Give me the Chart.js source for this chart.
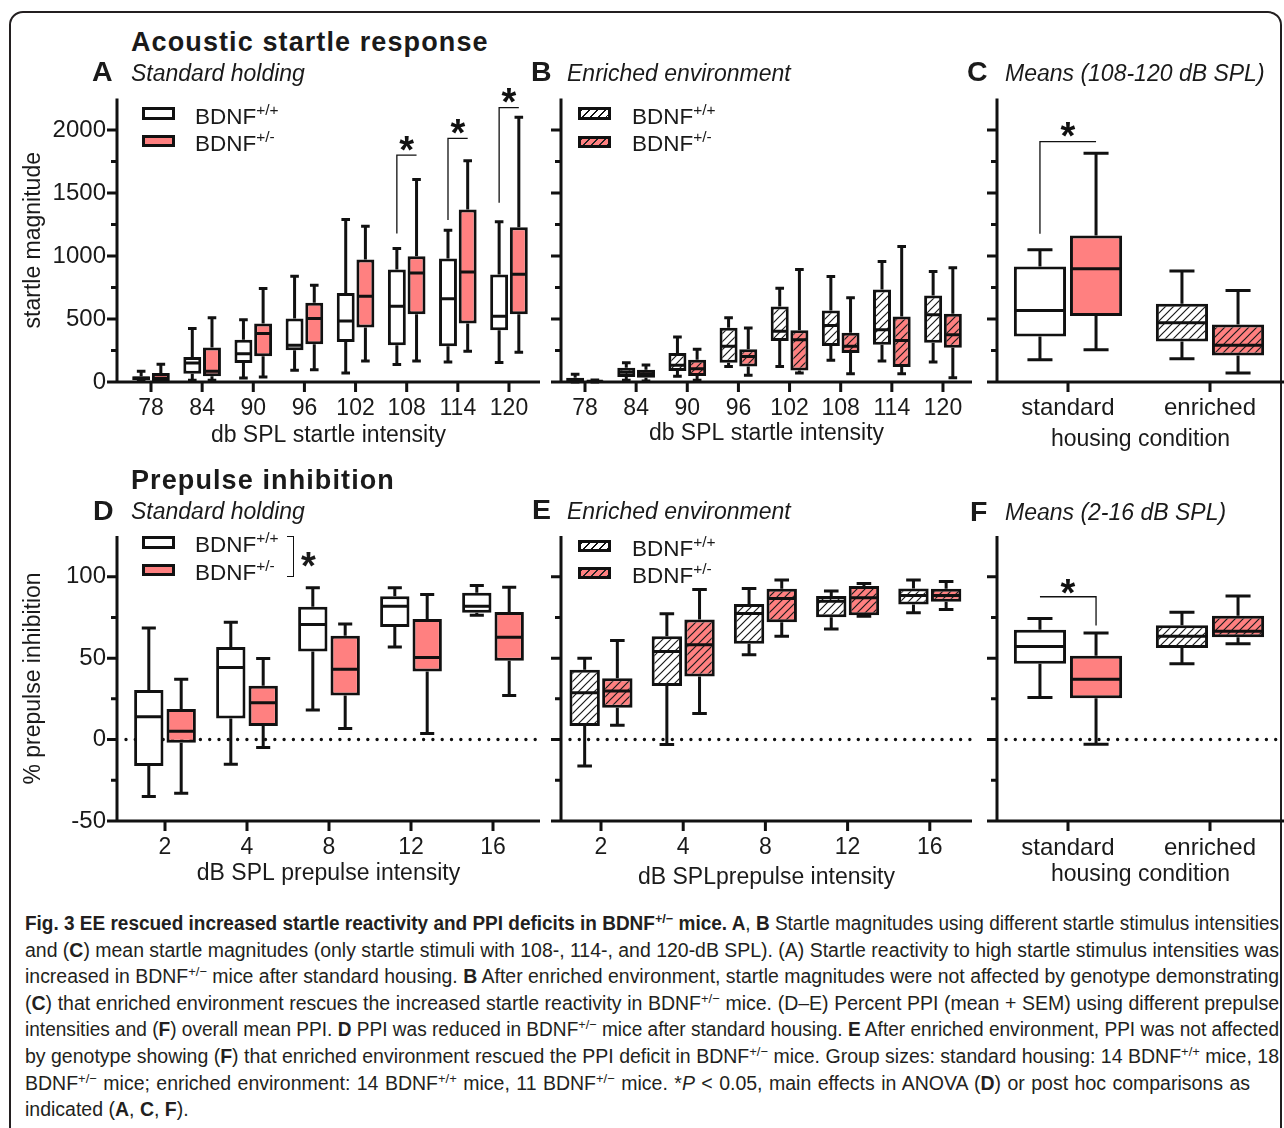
<!DOCTYPE html>
<html><head><meta charset="utf-8">
<script src="https://cdn.jsdelivr.net/npm/chart.js@4.4.1/dist/chart.umd.min.js"></script>
<style>
html,body{margin:0;padding:0;background:#fff}
body{width:1284px;height:1128px;position:relative;overflow:hidden;font-family:"Liberation Sans",Arial,Helvetica,sans-serif;color:#1a1a1a}
#frame{position:absolute;left:9px;top:11px;width:1273px;height:1200px;border:2px solid #231f20;border-radius:14px;box-sizing:border-box}
canvas{position:absolute}
.t{position:absolute;white-space:nowrap;line-height:1}
.title{font-weight:bold;font-size:27px;letter-spacing:1.1px}
.let{font-weight:bold;font-size:28.5px}
.sub{font-style:italic;font-size:23px}
.lg{position:absolute;box-sizing:border-box;border:3px solid #111;background:#fff}
.lg.red{background:#ff8080}
.lg.hw{background:repeating-linear-gradient(135deg,#111 0 1.3px,transparent 1.3px 5.5px),#fff}
.lg.hr{background:repeating-linear-gradient(135deg,#222 0 1.3px,transparent 1.3px 5.5px),#ff8080}
.lt{position:absolute;white-space:nowrap;line-height:1;font-size:22.5px}
.lt sup{font-size:15.5px;vertical-align:0;position:relative;top:-9px}
.cl{position:absolute;left:25px;white-space:nowrap;width:max-content;font-size:19.5px;line-height:26.6px;height:26.6px;transform-origin:0 0;color:#231f20}
.cl sup{font-size:13px;vertical-align:0;position:relative;top:-7px}
</style></head><body>
<div id="frame"></div>
<canvas id="cA"></canvas><canvas id="cB"></canvas><canvas id="cC"></canvas>
<canvas id="cD"></canvas><canvas id="cE"></canvas><canvas id="cF"></canvas>

<div class="t title" style="left:131px;top:28.6px">Acoustic startle response</div>
<div class="t let" style="left:92px;top:57.4px">A</div>
<div class="t sub" style="left:131px;top:61.5px">Standard holding</div>
<div class="t let" style="left:531px;top:57.4px">B</div>
<div class="t sub" style="left:567px;top:61.5px">Enriched environment</div>
<div class="t let" style="left:967px;top:57.4px">C</div>
<div class="t sub" style="left:1005px;top:61.5px">Means (108-120 dB SPL)</div>

<div class="t title" style="left:131px;top:467.1px">Prepulse inhibition</div>
<div class="t let" style="left:93px;top:495.9px">D</div>
<div class="t sub" style="left:131px;top:500px">Standard holding</div>
<div class="t let" style="left:532px;top:495.2px">E</div>
<div class="t sub" style="left:567px;top:499.8px">Enriched environment</div>
<div class="t let" style="left:970px;top:496.6px">F</div>
<div class="t sub" style="left:1005px;top:500.5px">Means (2-16 dB SPL)</div>

<!-- legends -->
<div class="lg" style="left:142px;top:107px;width:33px;height:12.5px"></div>
<div class="lg red" style="left:142px;top:135px;width:33px;height:12px"></div>
<div class="lt" style="left:195px;top:106px">BDNF<sup>+/+</sup></div>
<div class="lt" style="left:195px;top:133px">BDNF<sup>+/-</sup></div>

<div class="lg hw" style="left:578px;top:107px;width:33px;height:13px"></div>
<div class="lg hr" style="left:578px;top:136px;width:33px;height:11.5px"></div>
<div class="lt" style="left:632px;top:106px">BDNF<sup>+/+</sup></div>
<div class="lt" style="left:632px;top:133px">BDNF<sup>+/-</sup></div>

<div class="lg" style="left:142px;top:536px;width:33px;height:12.5px"></div>
<div class="lg red" style="left:142px;top:564px;width:33px;height:12px"></div>
<div class="lt" style="left:195px;top:534.3px">BDNF<sup>+/+</sup></div>
<div class="lt" style="left:195px;top:561.7px">BDNF<sup>+/-</sup></div>
<div style="position:absolute;left:287px;top:536px;width:7px;height:41px;box-sizing:border-box;border:1.5px solid #111;border-left:none"></div>
<div class="t" style="left:301px;top:547px;font-weight:bold;font-size:38px">*</div>

<div class="lg hw" style="left:578px;top:540px;width:33px;height:12px"></div>
<div class="lg hr" style="left:578px;top:567px;width:33px;height:12px"></div>
<div class="lt" style="left:632px;top:537.7px">BDNF<sup>+/+</sup></div>
<div class="lt" style="left:632px;top:565px">BDNF<sup>+/-</sup></div>

<!-- caption -->
<div class="cl" data-w="1254" style="top:910px"><b>Fig. 3 EE rescued increased startle reactivity and PPI deficits in BDNF<sup>+/−</sup> mice. A</b>, <b>B</b> Startle magnitudes using different startle stimulus intensities</div>
<div class="cl" data-w="1254" style="top:936.6px">and (<b>C</b>) mean startle magnitudes (only startle stimuli with 108-, 114-, and 120-dB SPL). (A) Startle reactivity to high startle stimulus intensities was</div>
<div class="cl" data-w="1254" style="top:963.2px">increased in BDNF<sup>+/−</sup> mice after standard housing. <b>B</b> After enriched environment, startle magnitudes were not affected by genotype demonstrating</div>
<div class="cl" data-w="1254" style="top:989.8px">(<b>C</b>) that enriched environment rescues the increased startle reactivity in BDNF<sup>+/−</sup> mice. (D–E) Percent PPI (mean + SEM) using different prepulse</div>
<div class="cl" data-w="1254" style="top:1016.4px">intensities and (<b>F</b>) overall mean PPI. <b>D</b> PPI was reduced in BDNF<sup>+/−</sup> mice after standard housing. <b>E</b> After enriched environment, PPI was not affected</div>
<div class="cl" data-w="1254" style="top:1043px">by genotype showing (<b>F</b>) that enriched environment rescued the PPI deficit in BDNF<sup>+/−</sup> mice. Group sizes: standard housing: 14 BDNF<sup>+/+</sup> mice, 18</div>
<div class="cl" data-w="1225" style="top:1069.6px">BDNF<sup>+/−</sup> mice; enriched environment: 14 BDNF<sup>+/+</sup> mice, 11 BDNF<sup>+/−</sup> mice. *<i>P</i> &lt; 0.05, main effects in ANOVA (<b>D</b>) or post hoc comparisons as</div>
<div class="cl" data-s="1" style="top:1096.2px">indicated (<b>A</b>, <b>C</b>, <b>F</b>).</div>

<script>
// ---------- data (box stats: [min, q1, median, q3, max]) ----------
const catsStartle = ['78','84','90','96','102','108','114','120'];
const catsPrepulse = ['2','4','8','12','16'];
const catsHousing = ['standard','enriched'];

const yLabelsStartle = [0, 500, 1000, 1500, 2000];
const yLabelsPPI = [-50, 0, 50, 100];

// A: startle, standard holding
const aWt  = [[5,13,30,45,85],[13,66,151,199,424],[32,151,225,336,495],[93,252,291,503,840],
              [72,318,485,707,1290],[138,291,601,893,1060],[159,283,660,980,1205],[154,411,522,853,1272]];
const aHet = [[3,8,30,72,140],[13,45,85,273,509],[40,204,384,464,742],[98,299,503,628,768],
              [167,432,681,972,1237],[167,538,866,999,1608],[244,464,874,1370,1756],[236,538,856,1229,2101]];
// B: startle, enriched environment
const bWt  = [[0,3,18,34,61],[13,40,77,114,153],[45,87,132,230,357],[124,153,283,431,510],
              [124,325,402,600,745],[172,285,449,568,838],[166,296,415,734,956],[159,312,534,687,877]];
const bHet = [[0,2,6,12,15],[8,34,66,98,135],[13,48,106,177,259],[53,124,203,259,428],
              [71,92,336,410,893],[66,230,283,391,668],[66,119,330,520,1075],[34,272,375,542,906]];
// C: startle means 108-120 dB
const cWt  = [[177,362,568,917,1049],[185,322,470,621,880]];
const cHet = [[256,523,898,1162,1815],[71,211,291,457,727]];
// D: PPI, standard holding
const dWt  = [[-35,-16.3,14,30.5,68.5],[-15.2,13,44.2,56.8,72],[18.1,54.1,70.6,81.5,93.2],[56.8,69.1,81.9,88,93.2],[76.3,77.8,81.9,90.1,94.6]];
const dHet = [[-33,-1.9,5.1,18.7,37],[-4.9,8.4,22.6,33,49.8],[6.8,27,43.2,63.8,71],[3.7,41.8,50.4,74,89.1],[27,48.4,62.8,78.4,93.6]];
// E: PPI, enriched environment
const eWt  = [[-16.3,8.4,28.8,42.8,50],[-3.1,32.9,54.1,63.4,77.2],[52.1,58.9,77.4,83.3,92.8],[67.9,75.1,85,88.1,91.2],[77.8,82.9,88.5,92.8,98]];
const eHet = [[8.8,19.6,29.8,37.7,60.9],[16,38.7,58.2,73.7,92.2],[63.4,72,86.6,92.6,98],[75.7,76.4,87.1,94.3,95.9],[79.8,84.6,88.5,92.6,97.1]];
// F: PPI means 2-16 dB
const fWt  = [[25.9,46.5,57.2,67.5,74.3],[46.5,56.2,63.4,70.2,78.2]];
const fHet = [[-2.9,25.3,37,51.5,65.4],[58.9,62.8,66.5,76.1,88.1]];

// significance brackets: [category index, start value, top value] / [index, level, drop value]
const bracketsA = [[5,1179,1801],[6,1285,1934],[7,1422,2177]];
const bracketsC = [[0,1176,1907]];
const bracketsF = [[0,87.7,70]];

// ---------- drawing ----------
const FONT = "'Liberation Sans', Arial, Helvetica, sans-serif";
const INK = '#111', RED = '#ff8080', TXT = '#1a1a1a';

function hatchPattern(bg) {
  const c = document.createElement('canvas'); c.width = 8; c.height = 8;
  const g = c.getContext('2d');
  g.fillStyle = bg; g.fillRect(0, 0, 8, 8);
  g.strokeStyle = '#1a1a1a'; g.lineWidth = 1.2;
  g.beginPath();
  g.moveTo(-2, 10); g.lineTo(10, -2);
  g.moveTo(-2, 2); g.lineTo(2, -2);
  g.moveTo(6, 10); g.lineTo(10, 6);
  g.stroke();
  return g.createPattern(c, 'repeat');
}

function drawStar(ctx, x, cy) {
  ctx.save();
  ctx.font = 'bold 38px ' + FONT;
  ctx.fillStyle = INK; ctx.textAlign = 'center'; ctx.textBaseline = 'alphabetic';
  const m = ctx.measureText('*');
  const base = cy + (m.actualBoundingBoxAscent - m.actualBoundingBoxDescent) / 2;
  ctx.fillText('*', x, base);
  ctx.restore();
}

const boxDeco = {
  id: 'boxDeco',
  beforeDatasetsDraw(chart, _a, o) {
    if (!o.zeroLine) return;
    const {ctx, chartArea: ca} = chart;
    const y = chart.scales.y.getPixelForValue(0);
    ctx.save();
    ctx.strokeStyle = INK; ctx.lineWidth = 3.4; ctx.lineCap = 'round';
    ctx.setLineDash([0, 9.3]);
    ctx.beginPath(); ctx.moveTo(ca.left + 9, y); ctx.lineTo(ca.right, y); ctx.stroke();
    ctx.restore();
  },
  afterDatasetsDraw(chart, _a, o) {
    const {ctx, chartArea: ca} = chart;
    const ys = chart.scales.y, xs = chart.scales.x;
    const py = v => ys.getPixelForValue(v);
    ctx.save();
    ctx.strokeStyle = INK; ctx.lineWidth = 3; ctx.lineCap = 'butt';
    // whiskers and medians
    o.stats.forEach((arr, di) => {
      const meta = chart.getDatasetMeta(di);
      meta.data.forEach((el, j) => {
        const [mn, q1, md, q3, mx] = arr[j];
        const x = el.x, w = el.width, cw = w * 0.48;
        ctx.beginPath();
        ctx.moveTo(x, py(q3)); ctx.lineTo(x, py(mx));
        ctx.moveTo(x - cw / 2, py(mx)); ctx.lineTo(x + cw / 2, py(mx));
        ctx.moveTo(x, py(q1)); ctx.lineTo(x, py(mn));
        ctx.moveTo(x - cw / 2, py(mn)); ctx.lineTo(x + cw / 2, py(mn));
        ctx.moveTo(x - w / 2 + 1, py(md)); ctx.lineTo(x + w / 2 - 1, py(md));
        ctx.stroke();
      });
    });
    // axes
    ctx.beginPath();
    ctx.moveTo(ca.left, ca.top); ctx.lineTo(ca.left, ca.bottom + 1.5);
    ctx.moveTo(ca.left - 1.5, ca.bottom); ctx.lineTo(ca.right, ca.bottom);
    ys.ticks.forEach(t => {
      if (t.value >= ys.max) return;
      const len = o.yMajor.includes(t.value) ? 10 : 6;
      const p = py(t.value);
      ctx.moveTo(ca.left - len, p); ctx.lineTo(ca.left, p);
    });
    xs.ticks.forEach(t => {
      const p = xs.getPixelForValue(t.value);
      ctx.moveTo(p, ca.bottom); ctx.lineTo(p, ca.bottom + 10);
    });
    ctx.stroke();
    // brackets
    if (o.brackets) {
      const m0 = chart.getDatasetMeta(0), m1 = chart.getDatasetMeta(1);
      ctx.lineWidth = 1.3;
      o.brackets.forEach(([i, a, b]) => {
        const x0 = m0.data[i].x, x1 = m1.data[i].x;
        ctx.beginPath();
        if (o.bracketType === 'up') {
          ctx.moveTo(x0, py(a)); ctx.lineTo(x0, py(b)); ctx.lineTo(x1, py(b));
          ctx.stroke();
          drawStar(ctx, (x0 + x1) / 2, py(b) - 12);
        } else {
          ctx.moveTo(x0, py(a)); ctx.lineTo(x1, py(a)); ctx.lineTo(x1, py(b));
          ctx.stroke();
          drawStar(ctx, (x0 + x1) / 2, py(a) - 10);
        }
      });
    }
    ctx.restore();
  }
};

function makePanel(p) {
  const canvas = document.getElementById(p.id);
  canvas.width = p.w; canvas.height = p.h;
  Object.assign(canvas.style, {left: p.left + 'px', top: p.top + 'px', width: p.w + 'px', height: p.h + 'px'});
  const n = p.cats.length;
  const xmin = (p.axisX - p.firstX) / p.step, xmax = (p.plotRight - p.firstX) / p.step;
  const isHatched = i => p.hatch === 'all' || (p.hatch === 'last' && i === n - 1);
  const series = [{stats: p.wt, color: '#ffffff'}, {stats: p.het, color: RED}];
  const datasets = series.map(s => ({
    data: s.stats.map((t, i) => ({x: i, y: [t[1], t[3]]})),
    backgroundColor: s.stats.map((t, i) => isHatched(i) ? hatchPattern(s.color) : s.color),
    borderColor: INK, borderWidth: 3, borderSkipped: false,
    categoryPercentage: p.cp, barPercentage: p.bp
  }));
  new Chart(canvas, {
    type: 'bar',
    data: {datasets},
    options: {
      responsive: false, animation: false, devicePixelRatio: 1, events: [],
      layout: {padding: {top: p.plotTop - p.top, right: p.left + p.w - p.plotRight, bottom: 0, left: 0}},
      plugins: {
        legend: {display: false}, tooltip: {enabled: false},
        boxDeco: {stats: [p.wt, p.het], yMajor: p.yMajor, zeroLine: p.zeroLine, brackets: p.brackets, bracketType: p.bracketType}
      },
      scales: {
        x: {
          type: 'linear', min: xmin, max: xmax, offset: false,
          grid: {display: false, drawTicks: false}, border: {display: false},
          afterBuildTicks: sc => { sc.ticks = p.cats.map((c, i) => ({value: i})); },
          ticks: {callback: v => p.cats[v] ?? '', autoSkip: false, maxRotation: 0, minRotation: 0,
                  padding: p.xTickPad, color: TXT, font: {family: FONT, size: p.xTickSize}},
          title: {display: true, text: p.xTitle, color: TXT, font: {family: FONT, size: 23},
                  padding: {top: 0, bottom: p.xTitlePad}},
          afterFit: sc => { sc.height = p.top + p.h - p.plotBottom; }
        },
        y: {
          min: p.ymin, max: p.ymax,
          grid: {display: false, drawTicks: false}, border: {display: false},
          ticks: {stepSize: p.yStep, autoSkip: false, padding: 11, color: TXT, font: {family: FONT, size: 24},
                  callback: v => p.yLabels.includes(v) ? String(v) : ''},
          title: {display: !!p.yTitle, text: p.yTitle || '', color: TXT, font: {family: FONT, size: 23},
                  padding: {top: 19.7, bottom: 0}},
          afterFit: sc => { sc.width = p.axisX - p.left; }
        }
      }
    },
    plugins: [boxDeco]
  });
}

const startleY = {ymin: 0, ymax: 2250, yStep: 250, yMajor: yLabelsStartle};
const ppiY = {ymin: -50, ymax: 125, yStep: 25, yMajor: yLabelsPPI, zeroLine: true};

makePanel(Object.assign({id: 'cA', left: 0, top: 60, w: 545, h: 400, axisX: 117, plotTop: 98.5, plotBottom: 382, plotRight: 540,
  cats: catsStartle, firstX: 151, step: 51.14, wt: aWt, het: aHet, hatch: 'none', cp: 0.77, bp: 0.91,
  yLabels: yLabelsStartle, yTitle: 'startle magnitude', xTitle: 'db SPL startle intensity', xTickSize: 23, xTickPad: 12.9, xTitlePad: 10.7,
  brackets: bracketsA, bracketType: 'up'}, startleY));
makePanel(Object.assign({id: 'cB', left: 500, top: 60, w: 475, h: 400, axisX: 561, plotTop: 98.5, plotBottom: 382, plotRight: 972,
  cats: catsStartle, firstX: 585, step: 51.14, wt: bWt, het: bHet, hatch: 'all', cp: 0.77, bp: 0.915,
  yLabels: [], xTitle: 'db SPL startle intensity', xTickSize: 23, xTickPad: 12.5, xTitlePad: 12.2}, startleY));
makePanel(Object.assign({id: 'cC', left: 940, top: 60, w: 344, h: 400, axisX: 997, plotTop: 98.5, plotBottom: 382, plotRight: 1284,
  cats: catsHousing, firstX: 1068, step: 142, wt: cWt, het: cHet, hatch: 'last', cp: 0.79, bp: 0.93,
  yLabels: [], xTitle: 'housing condition', xTickSize: 24, xTickPad: 12, xTitlePad: 6.5,
  brackets: bracketsC, bracketType: 'up'}, startleY));
makePanel(Object.assign({id: 'cD', left: 0, top: 490, w: 545, h: 410, axisX: 117, plotTop: 536, plotBottom: 821, plotRight: 540,
  cats: catsPrepulse, firstX: 165, step: 82, wt: dWt, het: dHet, hatch: 'none', cp: 0.79, bp: 0.906,
  yLabels: yLabelsPPI, yTitle: '% prepulse inhibition', xTitle: 'dB SPL prepulse intensity', xTickSize: 23, xTickPad: 12.5, xTitlePad: 12.9}, ppiY));
makePanel(Object.assign({id: 'cE', left: 500, top: 490, w: 475, h: 410, axisX: 561, plotTop: 536, plotBottom: 821, plotRight: 972,
  cats: catsPrepulse, firstX: 601, step: 82.2, wt: eWt, het: eHet, hatch: 'all', cp: 0.795, bp: 0.93,
  yLabels: [], xTitle: 'dB SPLprepulse intensity', xTickSize: 23, xTickPad: 12.5, xTitlePad: 8.5}, ppiY));
makePanel(Object.assign({id: 'cF', left: 940, top: 490, w: 344, h: 410, axisX: 997, plotTop: 536, plotBottom: 821, plotRight: 1284,
  cats: catsHousing, firstX: 1068, step: 142, wt: fWt, het: fHet, hatch: 'last', cp: 0.79, bp: 0.93,
  yLabels: [], xTitle: 'housing condition', xTickSize: 24, xTickPad: 12.5, xTitlePad: 11.5,
  brackets: bracketsF, bracketType: 'down'}, ppiY));

// justify caption lines
document.querySelectorAll('.cl').forEach(el => {
  const target = +el.dataset.w;
  const nat = el.getBoundingClientRect().width;
  if (!target) { return; }
  const spaces = (el.textContent.match(/ /g) || []).length;
  if (nat <= target) el.style.wordSpacing = ((target - nat) / spaces) + 'px';
  else el.style.transform = 'scaleX(' + (target / nat) + ')';
});
</script>
</body></html>
